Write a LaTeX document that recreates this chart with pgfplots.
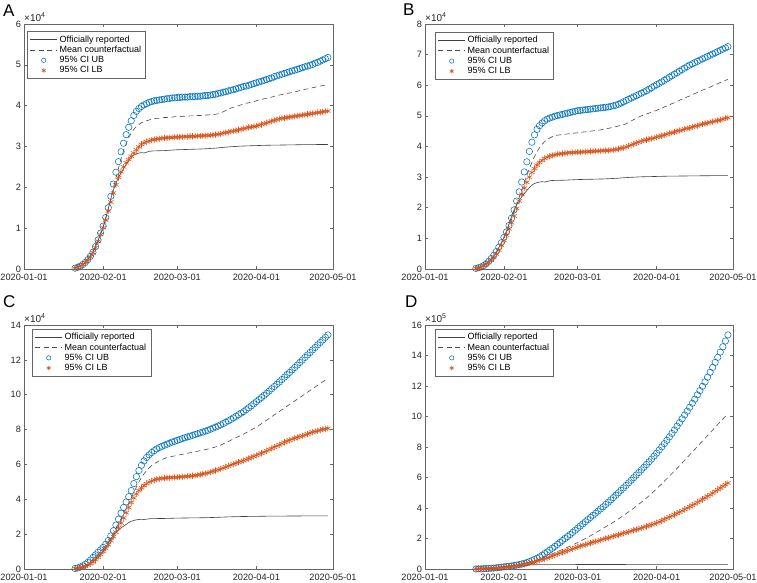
\documentclass[border=0pt]{standalone}
\usepackage{fontspec}
\setmainfont{Liberation Sans}
\usepackage{pgfplots}
\usepackage{pgfplotstable}
\pgfplotsset{compat=1.18}
\definecolor{mblue}{RGB}{0,114,189}
\definecolor{morange}{RGB}{217,83,25}

\pgfplotstableread{
d off
20 0.03
21 0.05
22 0.08
23 0.12
24 0.17
25 0.24
26 0.32
27 0.42
28 0.55
29 0.70
30 0.86
31 1.03
32 1.24
33 1.48
34 1.72
35 1.93
36 2.10
37 2.24
38 2.36
39 2.46
40 2.56
41 2.66
42 2.74
43 2.79
44 2.82
45 2.84
46 2.85
47 2.84
48 2.86
49 2.88
50 2.89
55 2.90
60 2.92
65 2.93
70 2.94
75 2.96
80 2.99
85 3.01
90 3.02
95 3.03
100 3.035
110 3.045
119 3.05
}\offtab

\pgfplotstableread{
d mean ub lb
20 0.02 0.02 0.02
21 0.04 0.04 0.04
22 0.07 0.07 0.07
23 0.11 0.11 0.11
24 0.16 0.16 0.16
25 0.23 0.23 0.22
26 0.31 0.31 0.30
27 0.41 0.41 0.40
28 0.54 0.55 0.53
29 0.69 0.71 0.68
30 0.86 0.88 0.84
31 1.03 1.05 1.01
32 1.24 1.26 1.20
33 1.47 1.50 1.42
34 1.72 1.78 1.64
35 1.98 2.08 1.86
36 2.23 2.37 2.06
37 2.47 2.63 2.24
38 2.70 2.87 2.38
39 2.90 3.08 2.50
40 3.07 3.29 2.60
41 3.22 3.47 2.68
42 3.33 3.63 2.76
43 3.42 3.76 2.84
44 3.49 3.86 2.92
45 3.54 3.93 2.99
46 3.58 3.98 3.05
47 3.61 4.02 3.09
48 3.63 4.05 3.12
49 3.65 4.08 3.14
50 3.67 4.10 3.16
51 3.68 4.12 3.17
52 3.69 4.13 3.18
53 3.69 4.14 3.19
54 3.70 4.15 3.20
55 3.71 4.16 3.21
56 3.71 4.17 3.21
57 3.72 4.18 3.22
58 3.72 4.19 3.22
59 3.73 4.19 3.23
60 3.73 4.20 3.23
61 3.73 4.20 3.23
62 3.74 4.21 3.24
63 3.74 4.21 3.24
64 3.74 4.21 3.24
65 3.75 4.22 3.25
66 3.75 4.22 3.25
67 3.75 4.22 3.25
68 3.76 4.23 3.26
69 3.76 4.23 3.26
70 3.76 4.24 3.26
71 3.77 4.25 3.27
72 3.77 4.25 3.27
73 3.78 4.26 3.28
74 3.78 4.27 3.28
75 3.79 4.28 3.29
76 3.80 4.30 3.30
77 3.82 4.31 3.31
78 3.85 4.33 3.33
79 3.88 4.34 3.34
80 3.91 4.36 3.35
81 3.94 4.38 3.37
82 3.96 4.39 3.38
83 3.98 4.41 3.39
84 4.00 4.43 3.41
85 4.02 4.45 3.42
86 4.04 4.47 3.44
87 4.06 4.48 3.45
88 4.07 4.50 3.47
89 4.09 4.52 3.48
90 4.10 4.54 3.49
91 4.12 4.56 3.50
92 4.14 4.58 3.52
93 4.15 4.60 3.54
94 4.17 4.62 3.56
95 4.18 4.64 3.58
96 4.20 4.66 3.60
97 4.21 4.68 3.62
98 4.23 4.71 3.64
99 4.24 4.73 3.66
100 4.26 4.75 3.68
101 4.27 4.77 3.69
102 4.29 4.79 3.70
103 4.30 4.81 3.71
104 4.31 4.83 3.72
105 4.32 4.85 3.73
106 4.34 4.87 3.74
107 4.35 4.89 3.75
108 4.37 4.91 3.76
109 4.38 4.93 3.77
110 4.40 4.95 3.78
111 4.41 4.97 3.79
112 4.42 4.99 3.80
113 4.44 5.01 3.81
114 4.45 5.04 3.82
115 4.47 5.06 3.83
116 4.48 5.09 3.84
117 4.49 5.12 3.85
118 4.51 5.15 3.86
119 4.52 5.18 3.87
}\tabA

\pgfplotstableread{
d mean ub lb
20 0.02 0.02 0.02
21 0.04 0.04 0.04
22 0.07 0.07 0.06
23 0.11 0.11 0.10
24 0.16 0.17 0.15
25 0.23 0.25 0.21
26 0.31 0.34 0.29
27 0.41 0.45 0.38
28 0.53 0.57 0.49
29 0.67 0.71 0.62
30 0.83 0.86 0.77
31 1.00 1.03 0.93
32 1.19 1.21 1.11
33 1.40 1.42 1.31
34 1.63 1.66 1.51
35 1.86 1.93 1.73
36 2.10 2.22 1.98
37 2.34 2.52 2.22
38 2.58 2.84 2.44
39 2.82 3.17 2.64
40 3.05 3.50 2.83
41 3.28 3.84 3.00
42 3.48 4.14 3.15
43 3.67 4.38 3.28
44 3.83 4.56 3.39
45 3.96 4.68 3.48
46 4.07 4.77 3.55
47 4.16 4.84 3.61
48 4.23 4.89 3.65
49 4.28 4.93 3.68
50 4.32 4.96 3.71
51 4.35 4.99 3.73
52 4.37 5.01 3.75
53 4.38 5.03 3.76
54 4.39 5.05 3.77
55 4.40 5.07 3.78
56 4.41 5.09 3.79
57 4.42 5.11 3.80
58 4.43 5.13 3.80
59 4.44 5.15 3.81
60 4.45 5.17 3.81
61 4.46 5.18 3.82
62 4.47 5.19 3.82
63 4.48 5.20 3.83
64 4.49 5.21 3.83
65 4.50 5.22 3.84
66 4.51 5.23 3.84
67 4.52 5.24 3.85
68 4.53 5.25 3.85
69 4.54 5.26 3.86
70 4.56 5.27 3.86
71 4.57 5.28 3.87
72 4.59 5.29 3.87
73 4.61 5.31 3.88
74 4.63 5.33 3.89
75 4.65 5.35 3.90
76 4.67 5.38 3.92
77 4.69 5.42 3.94
78 4.71 5.46 3.96
79 4.74 5.50 3.99
80 4.78 5.54 4.02
81 4.83 5.58 4.05
82 4.88 5.62 4.08
83 4.92 5.66 4.11
84 4.96 5.70 4.14
85 5.00 5.74 4.17
86 5.03 5.78 4.20
87 5.06 5.82 4.22
88 5.09 5.87 4.24
89 5.12 5.92 4.26
90 5.15 5.97 4.28
91 5.18 6.02 4.30
92 5.22 6.06 4.33
93 5.25 6.11 4.35
94 5.29 6.16 4.38
95 5.32 6.21 4.40
96 5.36 6.26 4.43
97 5.40 6.31 4.45
98 5.43 6.36 4.47
99 5.47 6.41 4.50
100 5.51 6.46 4.52
101 5.55 6.51 4.54
102 5.58 6.56 4.57
103 5.62 6.61 4.59
104 5.65 6.66 4.61
105 5.69 6.70 4.64
106 5.73 6.74 4.66
107 5.76 6.78 4.68
108 5.80 6.82 4.71
109 5.84 6.86 4.73
110 5.87 6.90 4.75
111 5.91 6.94 4.77
112 5.94 6.98 4.79
113 5.98 7.02 4.81
114 6.02 7.06 4.83
115 6.05 7.10 4.85
116 6.09 7.14 4.87
117 6.12 7.18 4.89
118 6.16 7.22 4.92
119 6.19 7.26 4.94
}\tabB

\pgfplotstableread{
d mean ub lb
20 0.03 0.03 0.02
21 0.05 0.06 0.04
22 0.09 0.11 0.07
23 0.14 0.18 0.11
24 0.21 0.27 0.16
25 0.30 0.38 0.23
26 0.41 0.51 0.31
27 0.54 0.66 0.41
28 0.68 0.81 0.53
29 0.83 0.96 0.67
30 0.99 1.10 0.83
31 1.16 1.24 1.00
32 1.35 1.42 1.19
33 1.56 1.64 1.40
34 1.79 1.90 1.62
35 2.04 2.20 1.86
36 2.31 2.52 2.11
37 2.59 2.86 2.37
38 2.88 3.20 2.64
39 3.18 3.53 2.93
40 3.48 3.85 3.23
41 3.78 4.15 3.53
42 4.08 4.50 3.82
43 4.38 4.90 4.08
44 4.70 5.30 4.31
45 5.00 5.65 4.50
46 5.25 5.95 4.66
47 5.46 6.20 4.79
48 5.64 6.40 4.90
49 5.80 6.55 4.99
50 5.93 6.68 5.06
51 6.04 6.79 5.11
52 6.13 6.89 5.15
53 6.21 6.97 5.18
54 6.28 7.04 5.20
55 6.34 7.10 5.22
56 6.39 7.16 5.23
57 6.43 7.22 5.24
58 6.46 7.28 5.25
59 6.49 7.33 5.26
60 6.52 7.38 5.27
61 6.55 7.43 5.28
62 6.58 7.48 5.29
63 6.61 7.53 5.30
64 6.64 7.58 5.32
65 6.67 7.62 5.33
66 6.70 7.67 5.35
67 6.73 7.72 5.37
68 6.76 7.76 5.39
69 6.79 7.81 5.42
70 6.82 7.86 5.45
71 6.85 7.91 5.48
72 6.88 7.96 5.52
73 6.92 8.02 5.56
74 6.96 8.08 5.60
75 7.00 8.14 5.65
76 7.05 8.20 5.70
77 7.11 8.27 5.75
78 7.18 8.34 5.80
79 7.25 8.42 5.86
80 7.32 8.50 5.91
81 7.39 8.58 5.97
82 7.46 8.67 6.02
83 7.53 8.76 6.07
84 7.60 8.85 6.12
85 7.67 8.94 6.17
86 7.74 9.03 6.22
87 7.82 9.14 6.28
88 7.90 9.25 6.34
89 7.98 9.36 6.40
90 8.06 9.48 6.46
91 8.14 9.60 6.52
92 8.24 9.72 6.58
93 8.34 9.84 6.64
94 8.44 9.96 6.71
95 8.54 10.08 6.78
96 8.64 10.21 6.85
97 8.74 10.34 6.92
98 8.84 10.47 6.99
99 8.94 10.60 7.06
100 9.04 10.73 7.13
101 9.14 10.87 7.20
102 9.24 11.01 7.27
103 9.34 11.15 7.33
104 9.44 11.28 7.39
105 9.54 11.42 7.45
106 9.64 11.56 7.50
107 9.74 11.70 7.55
108 9.84 11.85 7.60
109 9.94 11.99 7.65
110 10.04 12.14 7.70
111 10.14 12.28 7.75
112 10.24 12.42 7.80
113 10.34 12.57 7.85
114 10.44 12.71 7.89
115 10.54 12.86 7.93
116 10.64 13.00 7.97
117 10.74 13.14 8.01
118 10.84 13.29 8.04
119 10.94 13.43 8.07
}\tabC

\pgfplotstableread{
d mean ub lb
20 0.00 0.00 0.00
21 0.01 0.01 0.01
22 0.01 0.01 0.01
23 0.02 0.02 0.02
24 0.03 0.03 0.02
25 0.04 0.04 0.03
26 0.05 0.05 0.04
27 0.06 0.06 0.05
28 0.07 0.08 0.06
29 0.09 0.10 0.07
30 0.11 0.12 0.09
31 0.13 0.14 0.11
32 0.15 0.16 0.13
33 0.17 0.18 0.15
34 0.19 0.20 0.17
35 0.22 0.23 0.19
36 0.25 0.26 0.22
37 0.28 0.29 0.25
38 0.31 0.33 0.28
39 0.35 0.37 0.31
40 0.39 0.42 0.35
41 0.44 0.48 0.39
42 0.49 0.55 0.43
43 0.54 0.62 0.47
44 0.60 0.70 0.52
45 0.66 0.79 0.57
46 0.72 0.90 0.62
47 0.79 1.01 0.67
48 0.86 1.12 0.73
49 0.93 1.24 0.79
50 1.00 1.36 0.85
51 1.07 1.48 0.91
52 1.14 1.61 0.97
53 1.21 1.74 1.03
54 1.28 1.87 1.09
55 1.35 2.00 1.15
56 1.43 2.13 1.21
57 1.50 2.26 1.27
58 1.58 2.40 1.33
59 1.66 2.54 1.39
60 1.73 2.68 1.45
61 1.82 2.82 1.50
62 1.91 2.96 1.55
63 2.00 3.10 1.60
64 2.09 3.24 1.65
65 2.18 3.38 1.70
66 2.27 3.52 1.75
67 2.37 3.66 1.80
68 2.47 3.80 1.85
69 2.57 3.94 1.90
70 2.67 4.08 1.95
71 2.77 4.23 2.00
72 2.87 4.38 2.05
73 2.97 4.53 2.10
74 3.07 4.68 2.15
75 3.18 4.84 2.20
76 3.29 5.00 2.25
77 3.40 5.16 2.29
78 3.51 5.32 2.34
79 3.63 5.48 2.39
80 3.75 5.65 2.44
81 3.87 5.82 2.49
82 3.99 5.99 2.54
83 4.12 6.16 2.59
84 4.25 6.33 2.64
85 4.38 6.50 2.69
86 4.51 6.67 2.74
87 4.65 6.85 2.79
88 4.80 7.03 2.85
89 4.95 7.21 2.91
90 5.10 7.40 2.97
91 5.26 7.60 3.03
92 5.42 7.80 3.10
93 5.58 8.01 3.17
94 5.75 8.22 3.25
95 5.92 8.44 3.33
96 6.09 8.66 3.41
97 6.26 8.89 3.49
98 6.43 9.12 3.57
99 6.60 9.36 3.65
100 6.77 9.60 3.73
101 6.95 9.85 3.82
102 7.13 10.10 3.91
103 7.31 10.35 4.00
104 7.49 10.61 4.09
105 7.67 10.87 4.18
106 7.85 11.14 4.27
107 8.03 11.42 4.37
108 8.21 11.70 4.47
109 8.39 11.98 4.57
110 8.57 12.27 4.67
111 8.75 12.58 4.77
112 8.93 12.90 4.87
113 9.11 13.22 4.98
114 9.29 13.55 5.09
115 9.47 13.88 5.20
116 9.65 14.22 5.31
117 9.83 14.57 5.42
118 10.01 14.95 5.53
119 10.19 15.35 5.64
}\tabD

\pgfplotsset{
  mstyle/.style={
    width=309pt, height=245pt, scale only axis,
    xmin=0, xmax=121, ymin=0,
    xtick={0,31,60,91,121},
    xticklabels={2020-01-01,2020-02-01,2020-03-01,2020-04-01,2020-05-01},
    tick align=inside,
    major tick length=3pt,
    axis line style={black!60, line width=0.5pt},
    every tick/.style={black!60, line width=0.5pt},
    tick label style={font=\fontsize{9.2}{10}\selectfont, text=black!85},
    xticklabel style={yshift=-1.5pt},
    yticklabel style={xshift=0.5pt},
    /pgf/number format/assume math mode=true,
    legend cell align=left,
    legend style={font=\fontsize{9}{10}\selectfont, draw=black!60, line width=0.5pt,
      anchor=north west, inner xsep=2.5pt, inner ysep=2pt, row sep=-1.6pt},
    legend image code/.code={\draw[mark repeat=2,mark phase=2,mark size=2.2pt,##1] plot coordinates {(0cm,0cm) (0.48cm,0cm) (0.96cm,0cm)};},
  },
  offl/.style={black!75, line width=0.6pt, no marks},
  meanl/.style={black!70, line width=0.6pt, dash pattern=on 5pt off 3.5pt, no marks},
  ubm/.style={only marks, mark=o, mark size=3.2pt, mblue, mark options={line width=0.55pt}},
  lbm/.style={only marks, mark=asterisk, mark size=3.1pt, morange, mark options={line width=0.6pt}},
}

\begin{document}
\begin{tikzpicture}
\useasboundingbox (0pt,0pt) rectangle (757pt,583pt);

% Panel A
\begin{axis}[mstyle, name=A, at={(24pt,559pt)}, anchor=north west,
  ymax=6, ytick={0,1,2,3,4,5,6},
  legend style={at={(0.0097,0.97)}}]
\addplot[offl] table[x=d,y=off]{\offtab};
\addplot[meanl] table[x=d,y=mean]{\tabA};
\addplot[ubm] table[x=d,y=ub]{\tabA};
\addplot[lbm] table[x=d,y=lb]{\tabA};
\legend{Officially reported, Mean counterfactual, 95\% CI UB, 95\% CI LB}
\end{axis}
\node[anchor=south west, inner sep=0pt, yshift=2.5pt, font=\fontsize{10}{11}\selectfont, text=black!85] at (A.north west) {×10\textsuperscript{4}};
\node[anchor=base west, inner sep=0pt, xshift=-21pt, yshift=7pt, font=\fontsize{17}{18}\selectfont] at (A.north west) {A};

% Panel B
\begin{axis}[mstyle, width=308pt, name=B, at={(425pt,559pt)}, anchor=north west,
  ymax=8, ytick={0,1,2,3,4,5,6,7,8},
  legend style={at={(0.0325,0.967)}}]
\addplot[offl] table[x=d,y=off]{\offtab};
\addplot[meanl] table[x=d,y=mean]{\tabB};
\addplot[ubm] table[x=d,y=ub]{\tabB};
\addplot[lbm] table[x=d,y=lb]{\tabB};
\legend{Officially reported, Mean counterfactual, 95\% CI UB, 95\% CI LB}
\end{axis}
\node[anchor=south west, inner sep=0pt, yshift=2.5pt, font=\fontsize{10}{11}\selectfont, text=black!85] at (B.north west) {×10\textsuperscript{4}};
\node[anchor=base west, inner sep=0pt, xshift=-22pt, yshift=8pt, font=\fontsize{17}{18}\selectfont] at (B.north west) {B};

% Panel C
\begin{axis}[mstyle, height=244pt, name=C, at={(24pt,258pt)}, anchor=north west,
  ymax=14, ytick={0,2,4,6,8,10,12,14},
  legend style={at={(0.026,0.984)}}]
\addplot[offl] table[x=d,y=off]{\offtab};
\addplot[meanl] table[x=d,y=mean]{\tabC};
\addplot[ubm] table[x=d,y=ub]{\tabC};
\addplot[lbm] table[x=d,y=lb]{\tabC};
\legend{Officially reported, Mean counterfactual, 95\% CI UB, 95\% CI LB}
\end{axis}
\node[anchor=south west, inner sep=0pt, yshift=2.5pt, font=\fontsize{10}{11}\selectfont, text=black!85] at (C.north west) {×10\textsuperscript{4}};
\node[anchor=base west, inner sep=0pt, xshift=-21pt, yshift=17pt, font=\fontsize{17}{18}\selectfont] at (C.north west) {C};

% Panel D
\begin{axis}[mstyle, width=308pt, height=244pt, name=D, at={(425pt,258pt)}, anchor=north west,
  ymax=16, ytick={0,2,4,6,8,10,12,14,16},
  legend style={at={(0.0325,0.984)}}]
\addplot[offl] table[x=d,y expr=\thisrow{off}/10]{\offtab};
\addplot[meanl] table[x=d,y=mean]{\tabD};
\addplot[ubm] table[x=d,y=ub]{\tabD};
\addplot[lbm] table[x=d,y=lb]{\tabD};
\legend{Officially reported, Mean counterfactual, 95\% CI UB, 95\% CI LB}
\end{axis}
\node[anchor=south west, inner sep=0pt, yshift=2.5pt, font=\fontsize{10}{11}\selectfont, text=black!85] at (D.north west) {×10\textsuperscript{5}};
\node[anchor=base west, inner sep=0pt, xshift=-20pt, yshift=17pt, font=\fontsize{17}{18}\selectfont] at (D.north west) {D};
\end{tikzpicture}
\end{document}
